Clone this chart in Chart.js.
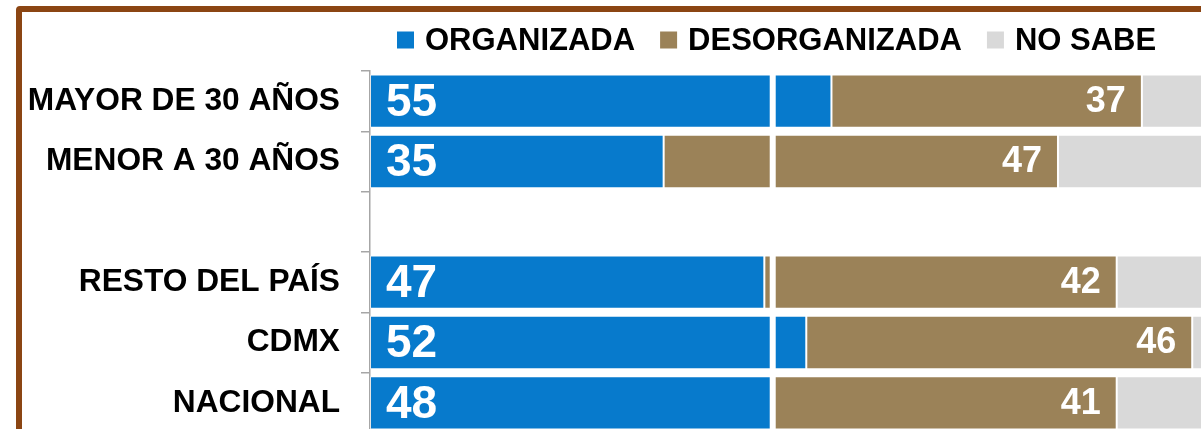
<!DOCTYPE html>
<html>
<head>
<meta charset="utf-8">
<title>Organizada / Desorganizada</title>
<script src="https://cdn.jsdelivr.net/npm/chart.js"></script>
<style>
    html, body { margin: 0; padding: 0; background: #fff; overflow: hidden; }
    body { width: 1201px; height: 429px; position: relative; }
    .frame {
        position: absolute; left: 16px; top: 6px;
        width: 1300px; height: 600px;
        border: 6px solid #8B4513; border-radius: 4px;
        box-sizing: border-box;
    }
    #chart { position: absolute; left: 0; top: 0; }
</style>
</head>
<body>
<div class="frame"></div>
<canvas id="chart" width="1230" height="440"></canvas>
<script>
// Data
const categories = ['MAYOR DE 30 AÑOS', 'MENOR A 30 AÑOS', '', 'RESTO DEL PAÍS', 'CDMX', 'NACIONAL'];
const organizada = [55, 35, null, 47, 52, 48];
const desorganizada = [37, 47, null, 42, 46, 41];
const noSabe = [8, 18, null, 11, 2, 11];
const seriesNames = ['ORGANIZADA', 'DESORGANIZADA', 'NO SABE'];
const seriesColors = ['#077ACC', '#9B8258', '#D9D9D9'];
const axisBreak = 48; // white cut through the bars

const FONT = "'Liberation Sans', Arial, sans-serif";

// Legend drawn by hand so the squares and gaps match the original
const legendPlugin = {
    id: 'customLegend',
    afterDraw(chart) {
        const ctx = chart.ctx;
        ctx.save();
        ctx.font = 'bold 31px ' + FONT;
        ctx.textBaseline = 'middle';
        ctx.textAlign = 'left';
        let x = 397;
        const y = 40;
        chart.data.datasets.forEach(ds => {
            ctx.fillStyle = ds.backgroundColor;
            ctx.fillRect(x, y - 8.5, 17, 17);
            ctx.fillStyle = '#000';
            ctx.fillText(ds.label, x + 28, y + 1);
            x += 28 + ctx.measureText(ds.label).width + 25;
        });
        ctx.restore();
    }
};

// Value labels + the white break line
const valueLabels = {
    id: 'valueLabels',
    afterDatasetsDraw(chart) {
        const ctx = chart.ctx;
        const area = chart.chartArea;
        const bx = chart.scales.x.getPixelForValue(axisBreak);
        ctx.save();
        ctx.fillStyle = '#fff';
        ctx.fillRect(bx - 3, area.top, 6, area.bottom - area.top);

        ctx.textBaseline = 'middle';
        chart.getDatasetMeta(0).data.forEach((bar, i) => {
            if (organizada[i] == null) return;
            ctx.font = 'bold 46px ' + FONT;
            ctx.textAlign = 'left';
            ctx.fillText(organizada[i], bar.base + 16, bar.y + 2);
        });
        chart.getDatasetMeta(1).data.forEach((bar, i) => {
            if (desorganizada[i] == null) return;
            ctx.font = 'bold 36px ' + FONT;
            ctx.textAlign = 'right';
            ctx.fillText(desorganizada[i], bar.x - 16, bar.y + 1);
        });
        ctx.restore();
    }
};

new Chart(document.getElementById('chart'), {
    type: 'bar',
    data: {
        labels: categories,
        datasets: [
            { label: seriesNames[0], data: organizada, backgroundColor: seriesColors[0] },
            { label: seriesNames[1], data: desorganizada, backgroundColor: seriesColors[1] },
            { label: seriesNames[2], data: noSabe, backgroundColor: seriesColors[2] }
        ]
    },
    options: {
        indexAxis: 'y',
        responsive: false,
        animation: false,
        layout: { padding: { top: 71, bottom: 7, left: 0, right: 21 } },
        datasets: {
            bar: {
                barPercentage: 0.884,
                categoryPercentage: 1,
                borderWidth: 1,
                borderColor: 'rgba(255,255,255,0.45)',
                borderSkipped: false
            }
        },
        plugins: {
            legend: { display: false },
            tooltip: { enabled: false }
        },
        scales: {
            x: { stacked: true, display: false, min: 0, max: 100 },
            y: {
                stacked: true,
                offset: true,
                afterFit(scale) {
                    scale.width = 370;
                    // labels sit inside their bands, no extra room needed
                    scale.paddingTop = 0;
                    scale.paddingBottom = 0;
                },
                grid: { drawOnChartArea: false, offset: true, tickLength: 9, color: '#A6A6A6', lineWidth: 1.5 },
                border: { color: '#A6A6A6', width: 1.5 },
                ticks: {
                    color: '#000',
                    padding: 21,
                    autoSkip: false,
                    font: { family: FONT, size: 31.7, weight: 'bold' }
                }
            }
        }
    },
    plugins: [valueLabels, legendPlugin]
});
</script>
</body>
</html>
